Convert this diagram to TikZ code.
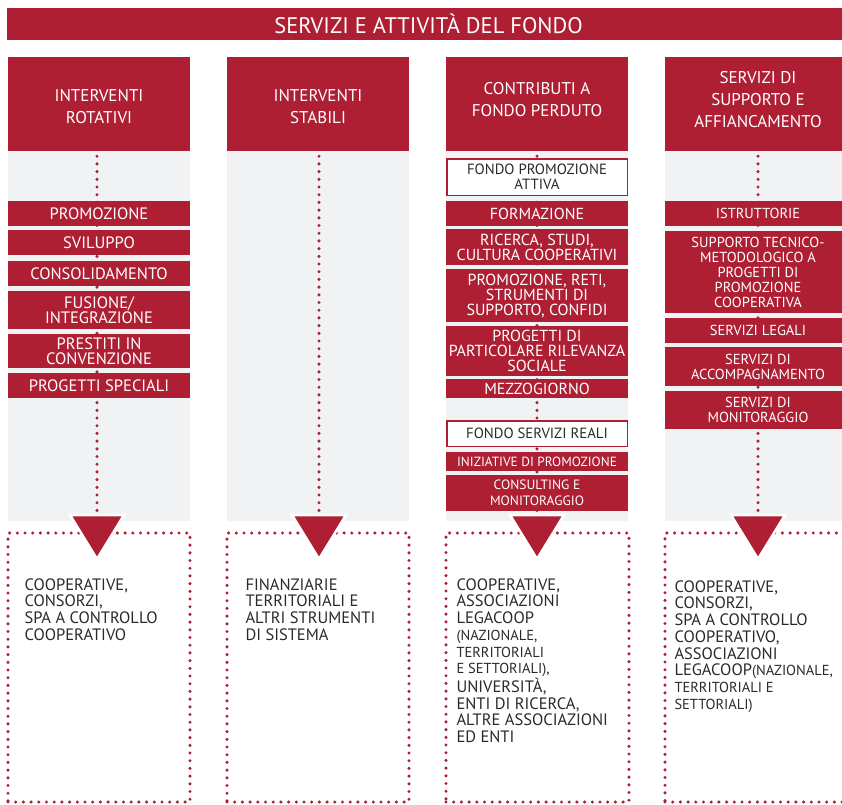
\documentclass[tikz,border=0pt]{standalone}
\usepackage{fontspec}
\setmainfont{PT Sans}
\usetikzlibrary{positioning}

\definecolor{fondored}{HTML}{AE1F33}
\definecolor{panelgray}{HTML}{F1F2F4}
\definecolor{textdark}{HTML}{2B2A29}
\newcommand{\smalltxt}{\fontsize{14.5}{16.7}\selectfont}

\tikzset{
  hdrbox/.style={fill=fondored, minimum width=182pt, minimum height=94pt, inner sep=0pt},
  hdrtext/.style={text=white, align=center, inner sep=0pt, font=\fontsize{17}{22}\selectfont},
  panel/.style={fill=panelgray, minimum width=182pt, minimum height=370pt, inner sep=0pt},
  itembox/.style={fill=fondored, text=white, minimum width=182pt, inner sep=0pt, align=center, font=\fontsize{16.5}{15.2}\selectfont},
  whitebox/.style={fill=white, draw=fondored, line width=1.5pt, text=textdark, minimum width=180.5pt, inner sep=0pt, align=center, font=\fontsize{14.8}{14.5}\selectfont},
  dotline/.style={draw=fondored, line width=3.4pt, line cap=round, dash pattern=on 0pt off 7.7pt},
  tgtbox/.style={dotline, minimum width=182pt, minimum height=269pt, inner sep=0pt},
  tgttext/.style={anchor=north west, text=textdark, align=left, inner sep=0pt, font=\fontsize{16.5}{16.7}\selectfont},
  arrowtri/.style={fill=fondored, draw=white, line width=2.5pt, line join=miter}
}

\begin{document}
\begin{tikzpicture}[x=1pt,y=-1pt]
    \useasboundingbox (0,0) rectangle (842,804);
    \clip (0,0) rectangle (842,804);

    % titolo
    \node[fill=fondored, text=white, minimum width=843pt, minimum height=32pt, inner sep=0pt,
          font=\fontsize{22.5}{26}\selectfont] (title) at (428.5,24) {SERVIZI E ATTIVITÀ DEL FONDO};

    % fondo grigio delle colonne
    \node[panel] (p1) at (99,336) {};
    \node[panel] (p2) at (318,336) {};
    \node[panel] (p3) at (537,336) {};
    \node[panel, minimum width=186pt] (p4) at (758,336) {};

    % intestazioni
    \node[hdrbox] (h1) at (99,104) {};
    \node[hdrtext] (h1t) at ([yshift=-3pt]h1.center) {INTERVENTI\\ROTATIVI};
    \node[hdrbox] (h2) at (318,104) {};
    \node[hdrtext] (h2t) at ([yshift=-3pt]h2.center) {INTERVENTI\\STABILI};
    \node[hdrbox] (h3) at (537,104) {};
    \node[hdrtext] (h3t) at ([yshift=4pt]h3.center) {CONTRIBUTI A\\FONDO PERDUTO};
    \node[hdrbox, minimum width=186pt] (h4) at (758,104) {};
    \node[hdrtext] (h4t) at ([yshift=4pt]h4.center) {SERVIZI DI\\SUPPORTO E\\AFFIANCAMENTO};

    % punte delle frecce e linee punteggiate
    \coordinate (a1) at (97,515);
    \coordinate (a2) at (319,515);
    \coordinate (a3) at (537,515);
    \coordinate (a4) at (758,515);
    \foreach \i in {1,2,3,4} {
        \draw[dotline, dash phase=2.7pt] (h\i.south -| a\i) -- (a\i);
    }

    % interventi rotativi
    \node[itembox, minimum height=25pt] (rot1) at (99,213.5) {PROMOZIONE};
    \node[itembox, minimum height=25pt] (rot2) at (99,242.5) {SVILUPPO};
    \node[itembox, minimum height=25pt] (rot3) at (99,273.5) {CONSOLIDAMENTO};
    \node[itembox, minimum height=38pt] (rot4) at (99,310) {FUSIONE/\\INTEGRAZIONE};
    \node[itembox, minimum height=34pt] (rot5) at (99,351) {PRESTITI IN\\CONVENZIONE};
    \node[itembox, minimum height=25pt] (rot6) at (99,385.5) {PROGETTI SPECIALI};

    % contributi a fondo perduto
    \node[whitebox, minimum height=36.5pt] (fpa) at (537,177) {FONDO PROMOZIONE\\ATTIVA};
    \node[itembox, minimum height=25pt, font=\fontsize{16}{15}\selectfont] (cfp1) at (537,213.5) {FORMAZIONE};
    \node[itembox, minimum height=36pt, font=\fontsize{16}{15}\selectfont] (cfp2) at (537,247) {RICERCA, STUDI,\\CULTURA COOPERATIVI};
    \node[itembox, minimum height=53pt, font=\fontsize{16}{15}\selectfont] (cfp3) at (537,295.5) {PROMOZIONE, RETI,\\STRUMENTI DI\\SUPPORTO, CONFIDI};
    \node[itembox, minimum height=50pt, font=\fontsize{16}{15}\selectfont] (cfp4) at (537,351) {PROGETTI DI\\PARTICOLARE RILEVANZA\\SOCIALE};
    \node[itembox, minimum height=19pt, font=\fontsize{16}{15}\selectfont] (cfp5) at (537,388.5) {MEZZOGIORNO};
    \node[whitebox, minimum height=25.5pt] (fsr) at (537,433.5) {FONDO SERVIZI REALI};
    \node[itembox, minimum height=19pt, font=\fontsize{13.3}{16}\selectfont] (cfp6) at (537,461.5) {INIZIATIVE DI PROMOZIONE};
    \node[itembox, minimum height=36pt, font=\fontsize{13.5}{16}\selectfont] (cfp7) at (537,493) {CONSULTING E\\MONITORAGGIO};

    % servizi di supporto e affiancamento
    \node[itembox, minimum width=186pt, minimum height=25pt, font=\fontsize{14.5}{15}\selectfont] (ssa1) at (758,213.5) {ISTRUTTORIE};
    \node[itembox, minimum width=186pt, minimum height=82pt, font=\fontsize{14.5}{15}\selectfont] (ssa2) at (758,272) {SUPPORTO TECNICO-\\METODOLOGICO A\\PROGETTI DI\\PROMOZIONE\\COOPERATIVA};
    \node[itembox, minimum width=186pt, minimum height=25pt, font=\fontsize{14.5}{15}\selectfont] (ssa3) at (758,330.5) {SERVIZI LEGALI};
    \node[itembox, minimum width=186pt, minimum height=39pt, font=\fontsize{14.5}{15}\selectfont] (ssa4) at (758,366.5) {SERVIZI DI\\ACCOMPAGNAMENTO};
    \node[itembox, minimum width=186pt, minimum height=38pt, font=\fontsize{14.5}{15}\selectfont] (ssa5) at (758,410) {SERVIZI DI\\MONITORAGGIO};

    % beneficiari
    \node[tgtbox] (b1) at (99,667.5) {};
    \node[tgtbox] (b2) at (318,667.5) {};
    \node[tgtbox, minimum width=183pt] (b3) at (537.5,667.5) {};
    \node[tgtbox, minimum width=186pt] (b4) at (758,667.5) {};

    \node[tgttext] (t1) at ([xshift=18pt,yshift=-47pt]b1.north west)
        {COOPERATIVE,\\CONSORZI,\\SPA A CONTROLLO\\COOPERATIVO};
    \node[tgttext] (t2) at ([xshift=20pt,yshift=-47pt]b2.north west)
        {FINANZIARIE\\TERRITORIALI E\\ALTRI STRUMENTI\\DI SISTEMA};
    \node[tgttext] (t3) at ([xshift=12pt,yshift=-47pt]b3.north west)
        {COOPERATIVE,\\ASSOCIAZIONI\\LEGACOOP\\{\smalltxt (NAZIONALE,}\\{\smalltxt TERRITORIALI}\\{\smalltxt E SETTORIALI),}\\UNIVERSITÀ,\\ENTI DI RICERCA,\\ALTRE ASSOCIAZIONI\\ED ENTI};
    \node[tgttext] (t4) at ([xshift=11pt,yshift=-49pt]b4.north west)
        {COOPERATIVE,\\CONSORZI,\\SPA A CONTROLLO\\COOPERATIVO,\\ASSOCIAZIONI\\LEGACOOP{\smalltxt(NAZIONALE,}\\{\smalltxt TERRITORIALI E}\\{\smalltxt SETTORIALI)}};

    % frecce
    \foreach \i in {1,2,3,4} {
        \filldraw[arrowtri] ([xshift=-27pt]a\i) -- ([xshift=27pt]a\i) -- ([yshift=-44pt]a\i) -- cycle;
    }
\end{tikzpicture}
\end{document}
